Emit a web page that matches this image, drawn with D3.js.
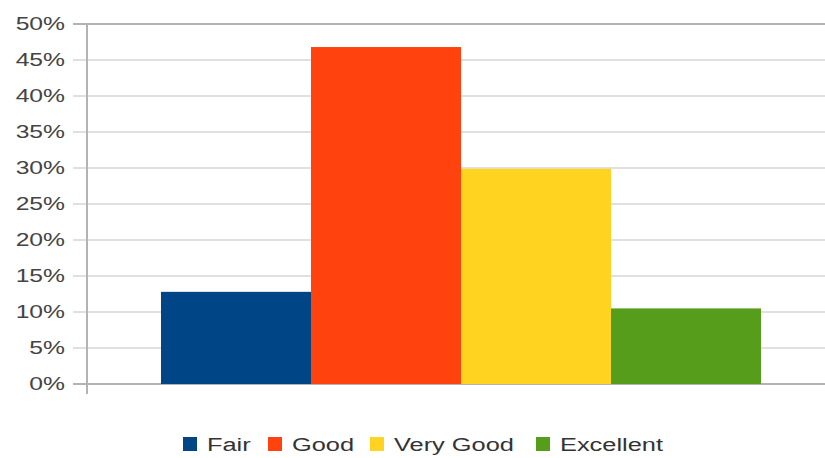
<!DOCTYPE html>
<html><head><meta charset="utf-8">
<script src="https://cdn.jsdelivr.net/npm/d3@7"></script>
<style>
html,body{margin:0;padding:0;background:#fff;}
svg{display:block;font-family:"Liberation Sans",Arial,sans-serif;}
</style></head>
<body>
<svg id="chart" width="825" height="458"></svg>
<script>
const categories = ["Fair", "Good", "Very Good", "Excellent"];
const values = [12.8, 46.8, 29.9, 10.5];
const colors = ["#004586", "#ff420e", "#ffd320", "#579d1c"];
const yTicks = [0, 5, 10, 15, 20, 25, 30, 35, 40, 45, 50];

const svg = d3.select("#chart");
const W = 825, H = 458;
const plot = {left: 87, right: 835, top: 24, bottom: 384};

const y = d3.scaleLinear().domain([0, 50]).range([plot.bottom, plot.top]);
const x0 = d3.scaleBand().domain(["all"]).range([plot.left, plot.right]).paddingInner(0).paddingOuter(0.1233);
const x1 = d3.scaleBand().domain(categories).range([0, x0.bandwidth()]).padding(0);

// gridlines
svg.append("g").selectAll("line").data(yTicks).join("line")
  .attr("x1", plot.left - 14).attr("x2", W)
  .attr("y1", d => y(d)).attr("y2", d => y(d))
  .attr("stroke", d => (d === 0 || d === 50) ? "#b3b3b3" : "#d6d6d6")
  .attr("stroke-width", d => (d === 0 || d === 50) ? 2 : 1.5);

// bars
svg.append("g").attr("transform", `translate(${x0("all")},0)`)
  .selectAll("rect").data(categories).join("rect")
  .attr("x", d => x1(d)).attr("width", x1.bandwidth())
  .attr("y", (d, i) => y(values[i]))
  .attr("height", (d, i) => y(0) - y(values[i]))
  .attr("fill", (d, i) => colors[i]);

// y axis
const yAxis = d3.axisLeft(y).tickValues(yTicks).tickFormat(d => d + "%").tickSize(0).tickPadding(22);
const ag = svg.append("g").attr("transform", `translate(${plot.left},0)`).call(yAxis);
ag.select(".domain").remove();
ag.append("line").attr("x1", 0).attr("x2", 0).attr("y1", plot.top).attr("y2", plot.bottom + 10)
  .attr("stroke", "#b3b3b3").attr("stroke-width", 2);
ag.selectAll("text").attr("font-size", 18).attr("fill", "#444").attr("font-family", "Liberation Sans, Arial, sans-serif");

function stretchText(sel, k) {
  sel.each(function() {
    const w = this.getComputedTextLength();
    d3.select(this).attr("textLength", w * k).attr("lengthAdjust", "spacingAndGlyphs");
  });
}
stretchText(ag.selectAll("text"), 1.37);

// legend
const legendX = [183, 268, 370, 536];
const lg = svg.append("g");
categories.forEach((c, i) => {
  lg.append("rect").attr("x", legendX[i]).attr("y", 437).attr("width", 14).attr("height", 14).attr("fill", colors[i]);
  const t = lg.append("text").attr("x", legendX[i] + 24).attr("y", 451)
    .attr("font-size", 18).attr("fill", "#333").text(c);
  stretchText(t, 1.41);
});
</script>
</body></html>
